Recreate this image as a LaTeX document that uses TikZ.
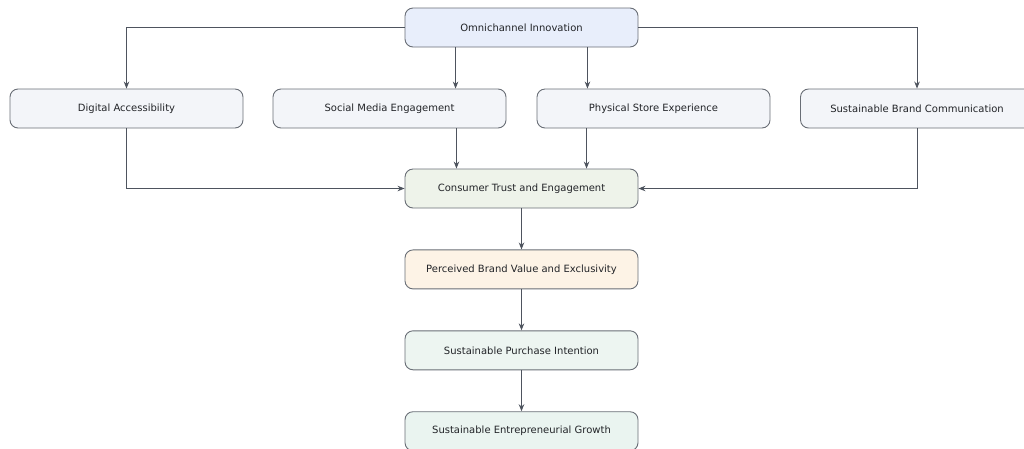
\documentclass[tikz,border=0pt]{standalone}
\usepackage{fontspec}
\setmainfont{DejaVu Sans}
\usepackage{xcolor}
\definecolor{linegray}{RGB}{78, 84, 94}
\definecolor{edgegray}{RGB}{105, 110, 118}
\definecolor{textgray}{RGB}{34, 36, 40}
\definecolor{topblue}{RGB}{232, 238, 251}
\definecolor{pillargray}{RGB}{243, 245, 249}
\definecolor{trustgreen}{RGB}{238, 243, 234}
\definecolor{valuepeach}{RGB}{253, 243, 230}
\definecolor{intentmint}{RGB}{237, 245, 241}
\definecolor{growthmint}{RGB}{234, 244, 240}
\usetikzlibrary{arrows.meta, positioning}

\begin{document}
\begin{tikzpicture}[
    x=1pt, y=-1pt,
    node distance=41pt,
    box/.style={rectangle, minimum width=233pt, minimum height=39pt, text centered, draw=edgegray, line width=0.9pt, rounded corners=8pt, font=\fontsize{10}{12}\selectfont, text=textgray},
    arrow/.style={->, >={Stealth[length=7pt,width=5.5pt]}, linegray, line width=0.8pt}
]
\clip (0,0) rectangle (1024,448);

% Nodes
\node (omni) [box, fill=topblue] at (521.5,27.5) {Omnichannel Innovation};
\node (digital) [box, fill=pillargray] at (126.5,108.5) {Digital Accessibility};
\node (social) [box, fill=pillargray] at (389.5,108.5) {Social Media Engagement};
\node (store) [box, fill=pillargray] at (653.5,108.5) {Physical Store Experience};
\node (brand) [box, fill=pillargray] at (917,108.5) {Sustainable Brand Communication};
\node (trust) [box, fill=trustgreen] at (521.5,188.5) {Consumer Trust and Engagement};
\node (value) [box, fill=valuepeach, below=of trust] {Perceived Brand Value and Exclusivity};
\node (intent) [box, fill=intentmint, below=of value] {Sustainable Purchase Intention};
\node (growth) [box, fill=growthmint, below=of intent] {Sustainable Entrepreneurial Growth};

% Arrows
\draw [arrow] (omni.west) -| (digital.north);
\draw [arrow] ([xshift=51pt]omni.south west) -- ([xshift=51pt]omni.south west |- social.north);
\draw [arrow] ([xshift=-51pt]omni.south east) -- ([xshift=-51pt]omni.south east |- store.north);
\draw [arrow] (omni.east) -| (brand.north);
\draw [arrow] (digital.south) |- (trust.west);
\draw [arrow] ([xshift=-50pt]social.south east) -- ([xshift=-50pt]social.south east |- trust.north);
\draw [arrow] ([xshift=50pt]store.south west) -- ([xshift=50pt]store.south west |- trust.north);
\draw [arrow] (brand.south) |- (trust.east);
\draw [arrow] (trust) -- (value);
\draw [arrow] (value) -- (intent);
\draw [arrow] (intent) -- (growth);

\end{tikzpicture}
\end{document}
